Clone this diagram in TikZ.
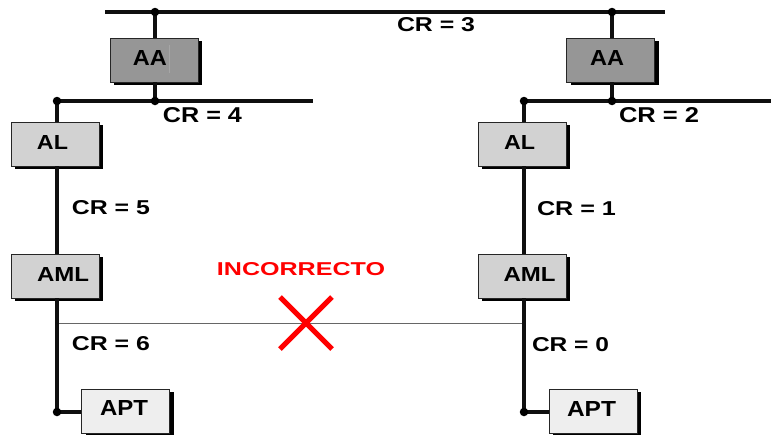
\documentclass[tikz,border=0pt]{standalone}
\usepackage{fontspec}
\setmainfont{Liberation Sans}
\usetikzlibrary{shadows}
\definecolor{aafill}{RGB}{150,150,150}
\definecolor{alfill}{RGB}{210,210,210}
\definecolor{aptfill}{RGB}{238,238,238}
\definecolor{wire}{RGB}{15,15,15}
\definecolor{xred}{RGB}{255,0,0}
% label set at an exact width and cap height
\newcommand{\fitlbl}[3]{\resizebox{#1pt}{#2pt}{\bfseries #3}}
\begin{document}
\begin{tikzpicture}[x=1pt,y=-1pt,
  unit/.style={draw=black!85, line width=0.9pt, minimum width=88pt, minimum height=44pt,
    inner sep=0pt, drop shadow={shadow xshift=4pt, shadow yshift=-3pt, fill=black, opacity=1}},
  aabox/.style={unit, fill=aafill},
  albox/.style={unit, fill=alfill},
  aptbox/.style={unit, fill=aptfill},
  txt/.style={inner sep=0pt, anchor=center},
  bus/.style={draw=wire, line width=3.8pt},
  thin/.style={draw=black!60, line width=1pt},
  junc/.style={circle, fill=black, inner sep=0pt, minimum size=8.5pt},
  cross/.style={draw=xred, line width=5pt}]
\useasboundingbox (0,0) rectangle (771,434);

% junction points
\coordinate (top0) at (105,12);
\coordinate (top1) at (665,12);
\coordinate (jtL) at (155,12);
\coordinate (jtR) at (612,12);
\coordinate (bL0) at (57,101);
\coordinate (bL1) at (313,101);
\coordinate (bLa) at (155,101);
\coordinate (bR0) at (524,101);
\coordinate (bR1) at (771,101);
\coordinate (bRa) at (612,101);
\coordinate (pL) at (57,412);
\coordinate (pR) at (524,412);
\coordinate (hL) at (57,323);
\coordinate (hR) at (524,323);

% buses and cross link
\draw[bus] (top0) -- (top1);
\draw[bus] (bL0) -- (bL1);
\draw[bus] (bR0) -- (bR1);
\draw[thin] (hL) -- (hR);

% units
\node[aabox] (aaL) at (154,60) {};
\node[aabox] (aaR) at (610.5,60) {};
\node[albox] (alL) at (55,144) {};
\node[albox] (alR) at (522,144) {};
\node[albox] (amlL) at (55,276) {};
\node[albox] (amlR) at (522,276) {};
\node[aptbox] (aptL) at (125.5,411) {};
\node[aptbox] (aptR) at (593,411) {};

% vertical links
\draw[bus] (jtL) -- (jtL |- aaL.north);
\draw[bus] (jtL |- aaL.south) -- (bLa);
\draw[bus] (jtR) -- (jtR |- aaR.north);
\draw[bus] (jtR |- aaR.south) -- (bRa);
\draw[bus] (bL0) -- (bL0 |- alL.north);
\draw[bus] (bL0 |- alL.south) -- (bL0 |- amlL.north);
\draw[bus] (bL0 |- amlL.south) -- (pL) -- (aptL.west |- pL);
\draw[bus] (bR0) -- (bR0 |- alR.north);
\draw[bus] (bR0 |- alR.south) -- (bR0 |- amlR.north);
\draw[bus] (bR0 |- amlR.south) -- (pR) -- (aptR.west |- pR);

% junction dots
\foreach \j in {jtL,jtR,bL0,bLa,bR0,bRa,pL,pR}
  \node[junc] at (\j) {};

% unit names
\node[txt] (aaLt) at (150,57.5) {\fitlbl{34}{15}{AA}};
\draw[black!35, line width=0.5pt] (169,45) -- (169,73);
\node[txt] (aaRt) at (607,57.5) {\fitlbl{34}{15}{AA}};
\node[txt] (alLt) at (52.5,142) {\fitlbl{31}{14}{AL}};
\node[txt] (alRt) at (519.5,142) {\fitlbl{31}{14}{AL}};
\node[txt] (amlLt) at (63,274) {\fitlbl{52}{14}{AML}};
\node[txt] (amlRt) at (529.5,274) {\fitlbl{52}{14}{AML}};
\node[txt] (aptLt) at (124,408) {\fitlbl{48}{15}{APT}};
\node[txt] (aptRt) at (591.5,409) {\fitlbl{49}{15}{APT}};

% CR values
\node[txt] (cr3) at (436,25) {\fitlbl{78}{14}{CR = 3}};
\node[txt] (cr4) at (202.5,115.5) {\fitlbl{79}{15}{CR = 4}};
\node[txt] (cr2) at (659,115.5) {\fitlbl{80}{15}{CR = 2}};
\node[txt] (cr5) at (111,208) {\fitlbl{78}{14}{CR = 5}};
\node[txt] (cr1) at (576.5,208.5) {\fitlbl{79}{14}{CR = 1}};
\node[txt] (cr6) at (111,344) {\fitlbl{78}{14}{CR = 6}};
\node[txt] (cr0) at (570.5,345) {\fitlbl{77}{14}{CR = 0}};

% rejected link
\node[txt, text=xred] (bad) at (301,269.5) {\fitlbl{168}{13}{INCORRECTO}};
\coordinate (xc) at (306,323);
\draw[cross] ([shift={(-26,-26)}]xc) -- ([shift={(26,26)}]xc);
\draw[cross] ([shift={(26,-26)}]xc) -- ([shift={(-26,26)}]xc);
\end{tikzpicture}
\end{document}
